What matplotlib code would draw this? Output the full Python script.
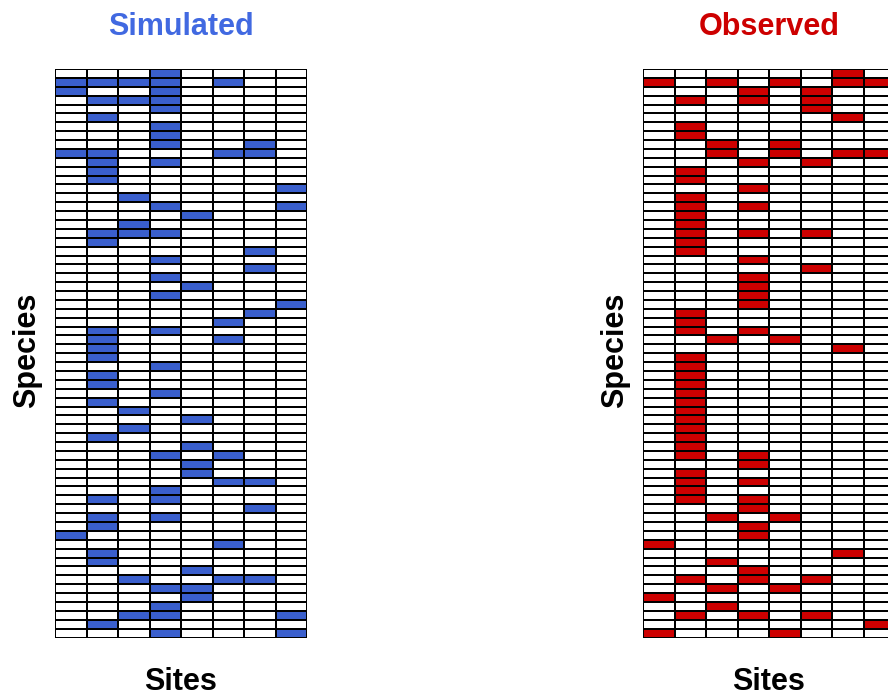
import numpy as np
import matplotlib
matplotlib.use("Agg")
from matplotlib import pyplot as plt
from matplotlib.colors import ListedColormap

# presence / absence, one string per species (top to bottom), one char per site
simulated = [
    "00010000", "11110100", "10010000", "01110000", "00010000", "01000000",
    "00010000", "00010000", "00010010", "11000110", "01010000", "01000000",
    "01000000", "00000001", "00100000", "00010001", "00001000", "00100000",
    "01110000", "01000000", "00000010", "00010000", "00000010", "00010000",
    "00001000", "00010000", "00000001", "00000010", "00000100", "01010000",
    "01000100", "01000000", "01000000", "00010000", "01000000", "01000000",
    "00010000", "01000000", "00100000", "00001000", "00100000", "01000000",
    "00001000", "00010100", "00001000", "00001000", "00000110", "00010000",
    "01010000", "00000010", "01010000", "01000000", "10000000", "00000100",
    "01000000", "01000000", "00001000", "00100110", "00011000", "00001000",
    "00010000", "00110001", "01000000", "00010001",
]
observed = [
    "00000010", "10101011", "00010100", "01010100", "00000100", "00000010",
    "01000000", "01000000", "00101000", "00101011", "00010100", "01000000",
    "01000000", "00010000", "01000000", "01010000", "01000000", "01000000",
    "01010100", "01000000", "01000000", "00010000", "00000100", "00010000",
    "00010000", "00010000", "00010000", "01000000", "01000000", "01010000",
    "00101000", "00000010", "01000000", "01000000", "01000000", "01000000",
    "01000000", "01000000", "01000000", "01000000", "01000000", "01000000",
    "01000000", "01010000", "00010000", "01000000", "01010000", "01000000",
    "01010000", "00010000", "00101000", "00010000", "00010000", "10000000",
    "00000010", "00100000", "00010000", "01010100", "00101000", "10000000",
    "00100000", "01010100", "00000001", "10001000",
]

def to_matrix(rows):
    return np.array([[int(c) for c in r] for r in rows])

plt.rcParams['font.family'] = ['Liberation Sans', 'DejaVu Sans']
fig = plt.figure(figsize=(8.88, 7.0), dpi=100)

panels = [
    (simulated, "#3A5FCD", "#4169E1", "Simulated", 55),
    (observed, "#CD0000", "#CD0000", "Observed", 643),
]
for rows, cell_col, title_col, title, x0 in panels:
    m = to_matrix(rows)
    ax = fig.add_axes([x0 / 888, 62.5 / 700, 252 / 888, 568.5 / 700])
    ax.pcolormesh(m, cmap=ListedColormap(["white", cell_col]), vmin=0, vmax=1,
                  edgecolors="black", linewidth=1.4)
    ax.set_xlim(0, m.shape[1])
    ax.set_ylim(m.shape[0], 0)
    ax.axis("off")
    cx = (x0 + 126) / 888
    fig.text(cx, 1 - 27 / 700, title, color=title_col, fontsize=22,
             fontweight="bold", ha="center", va="center")
    fig.text(cx, 1 - 682 / 700, "Sites", fontsize=22, fontweight="bold",
             ha="center", va="center")
    fig.text((x0 - 28) / 888, 0.5, "Species", fontsize=22, fontweight="bold",
             rotation=90, ha="center", va="center")

fig.savefig("out.png", dpi=100)
